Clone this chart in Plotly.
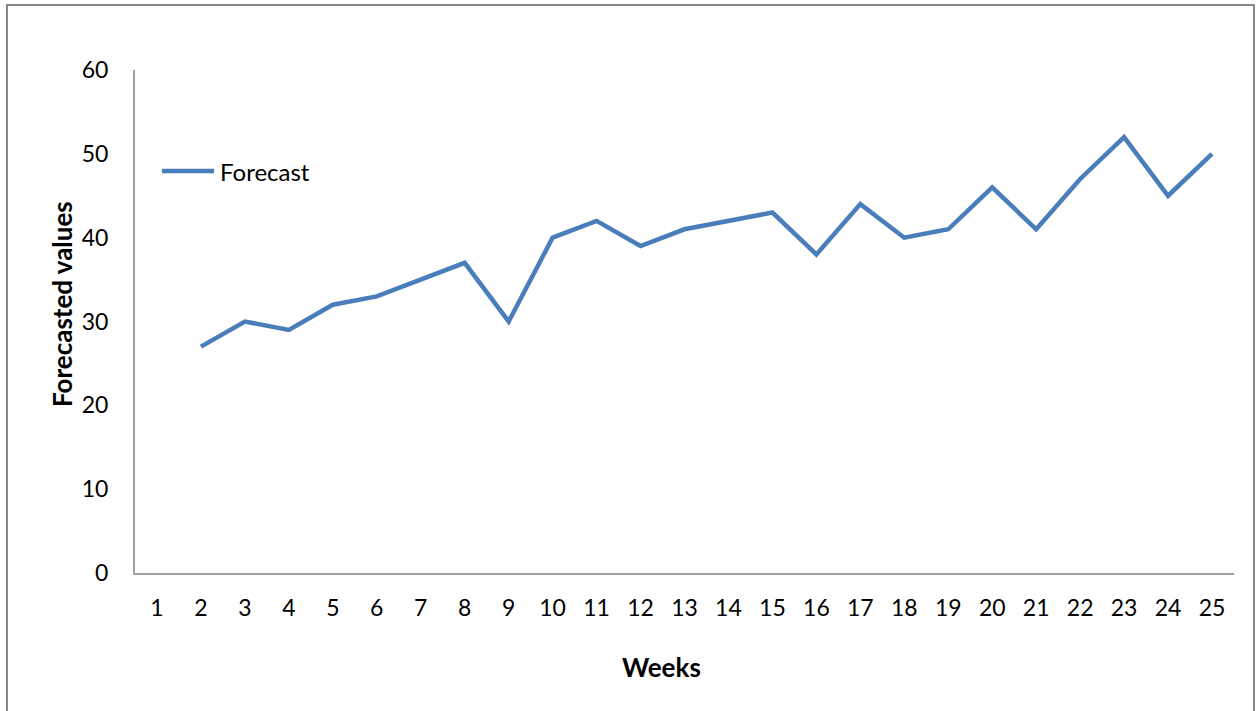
import plotly.graph_objects as go

# Weekly forecast series (week 1 has no forecast)
weeks = list(range(1, 26))
forecast = [None, 27, 30, 29, 32, 33, 35, 37, 30, 40, 42, 39, 41, 42, 43,
            38, 44, 40, 41, 46, 41, 47, 52, 45, 50]
y_ticks = [0, 10, 20, 30, 40, 50, 60]

W, H = 1257, 711
L, R, T, B = 135, 23, 70, 138
pw, ph = W - L - R, H - T - B

def px_x(px):
    return (px - L) / pw

def px_y(py):
    return (H - B - py) / ph

FONT = "Lato, 'Open Sans', sans-serif"
LINE_COLOR = "#4A7EBB"
AXIS_COLOR = "#A0A0A0"

fig = go.Figure()
fig.add_trace(go.Scatter(
    x=weeks, y=forecast, mode="lines", name="Forecast",
    line=dict(color=LINE_COLOR, width=4.5), connectgaps=False,
    showlegend=False,
))

fig.update_layout(
    width=W, height=H,
    margin=dict(l=L, r=R, t=T, b=B),
    paper_bgcolor="white", plot_bgcolor="white",
    font=dict(family=FONT, size=23, color="black"),
    xaxis=dict(
        range=[0.5, 25.5], tickmode="array", tickvals=weeks,
        ticktext=[str(w) for w in weeks], showgrid=False, zeroline=False,
        showline=True, linecolor=AXIS_COLOR, linewidth=2, ticks="",
        ticklabelstandoff=13,
    ),
    yaxis=dict(
        range=[0, 60], tickmode="array", tickvals=y_ticks,
        showgrid=False, zeroline=False, showline=True,
        linecolor=AXIS_COLOR, linewidth=2, ticks="", ticklabelstandoff=20,
    ),
    shapes=[
        # chart frame
        dict(type="rect", xref="paper", yref="paper",
             x0=px_x(7), x1=px_x(1254), y0=px_y(730), y1=px_y(5),
             line=dict(color="#878787", width=2), fillcolor="rgba(0,0,0,0)",
             layer="below"),
        # legend key
        dict(type="line", xref="paper", yref="paper",
             x0=px_x(162), x1=px_x(214), y0=px_y(171), y1=px_y(171),
             line=dict(color=LINE_COLOR, width=4.5)),
    ],
    annotations=[
        dict(text="Forecast", xref="paper", yref="paper",
             x=px_x(218), y=px_y(171), xanchor="left", yanchor="middle",
             showarrow=False, font=dict(size=24)),
        dict(text="<b>Weeks</b>", xref="paper", yref="paper",
             x=px_x(661), y=px_y(667), xanchor="center", yanchor="middle",
             showarrow=False, font=dict(size=26)),
        dict(text="<b>Forecasted values</b>", xref="paper", yref="paper",
             x=px_x(62), y=px_y(304), xanchor="center", yanchor="middle",
             textangle=-90, showarrow=False, font=dict(size=26)),
    ],
)

fig.write_html("out.html")
